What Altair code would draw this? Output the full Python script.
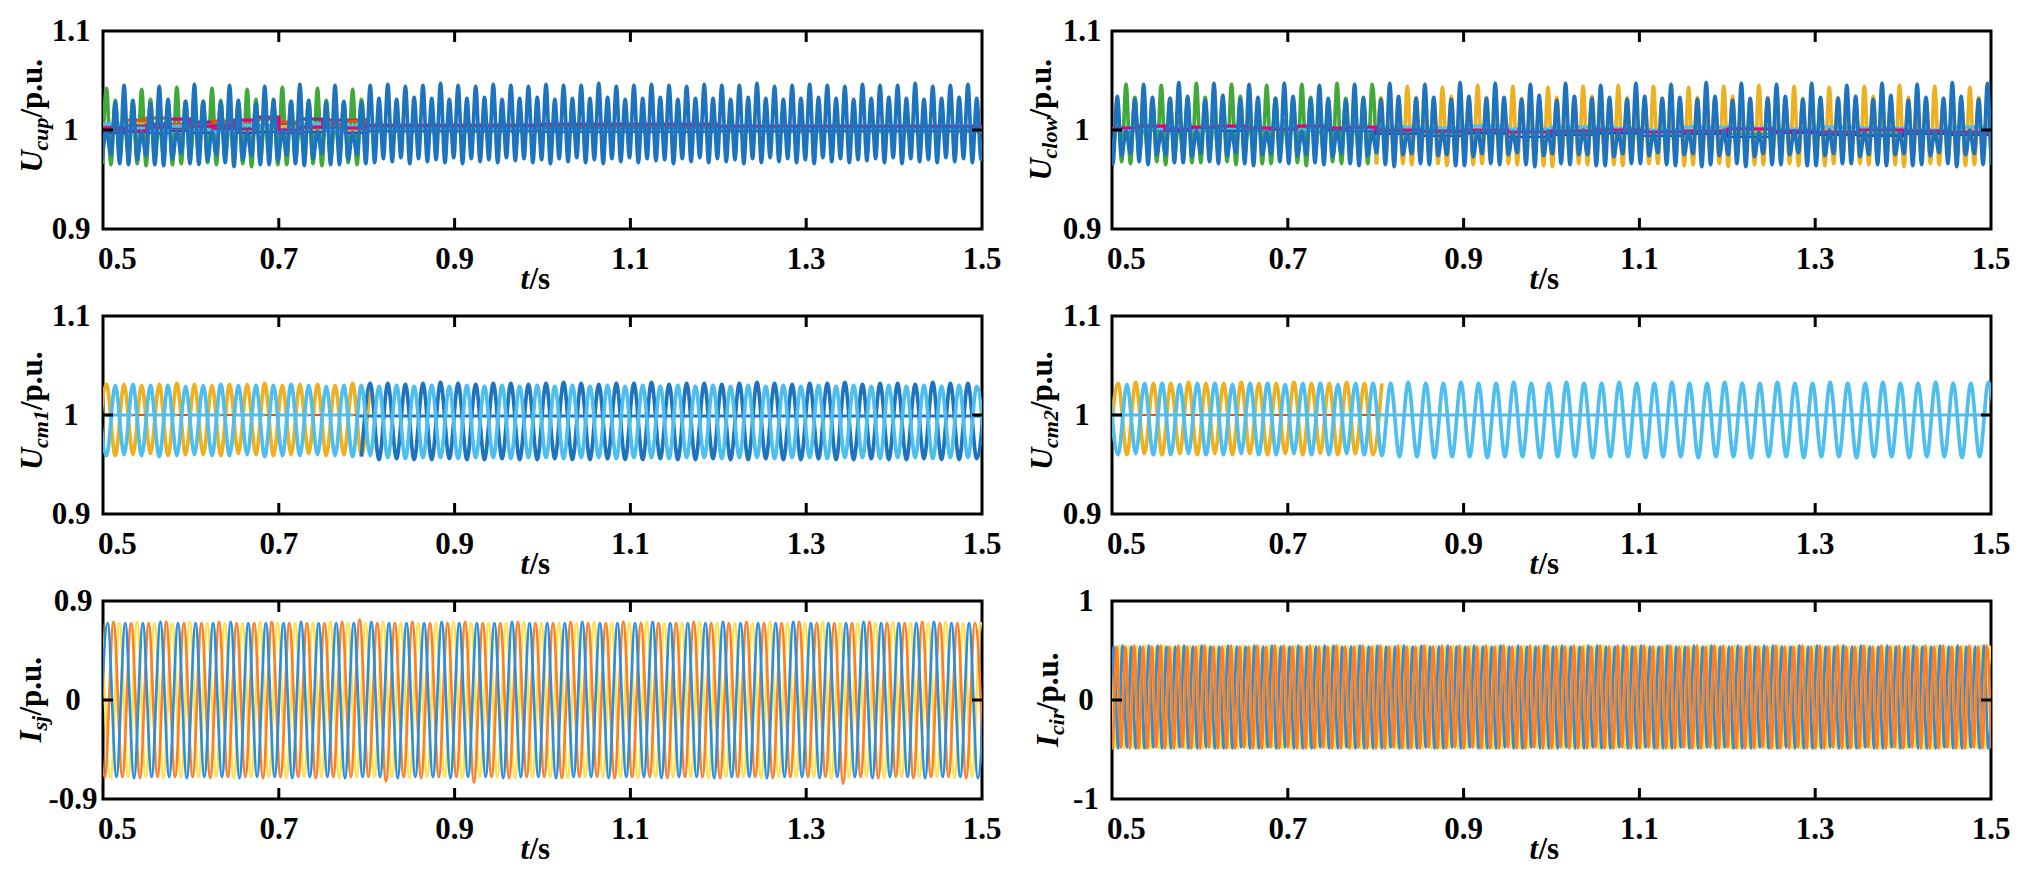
import altair as alt
import pandas as pd

FONT = "Liberation Serif"
W, H = 879, 198

# ---------------- axis values ----------------
X_LABELS = [0.5, 0.7, 0.9, 1.1, 1.3, 1.5]
X_INNER_TICKS = [0.7, 0.9, 1.1, 1.3]
U_TICKS = [0.9, 1.0, 1.1]
ISJ_TICKS = [-0.9, 0.0, 0.9]
ICIR_TICKS = [-1.0, 0.0, 1.0]

# ---------------- data (extreme values) ----------------
# U_cup  (0.001 p.u.), samples every 5 ms starting at t = 0.499 s
UCUP_T0, UCUP_DT = 0.499, 0.005
UCUP_BLUE_PRE = [970,
    999, 975, 1028, 966, 1045, 965, 1030, 970,
    998, 974, 1027, 965, 1044, 964, 1031, 971,
    1000, 976, 1029, 966, 1046, 965, 1029, 969,
    999, 975, 1028, 967, 1045, 963, 1030, 970,
    998, 974, 1027, 965, 1044, 965, 1031, 969,
    1000, 975, 1029, 966, 1046, 964, 1030, 971,
    999, 976, 1028, 965, 1045, 965, 1029, 970,
    998, 975, 1028, 966]
UCUP_BLUE_POST = [
    1045, 967, 1032, 971, 1046, 968, 1031, 972, 1044, 966, 1033, 971, 1045, 968, 1032, 970,
    1047, 967, 1031, 972, 1045, 966, 1032, 971, 1044, 968, 1033, 970, 1046, 967, 1031, 972,
    1045, 969, 1032, 971, 1044, 967, 1033, 970, 1046, 966, 1031, 971, 1045, 968, 1032, 972,
    1045, 967, 1032, 970, 1047, 966, 1033, 971, 1044, 968, 1031, 972, 1045, 967, 1032, 971,
    1046, 969, 1033, 970, 1045, 966, 1031, 971, 1044, 968, 1032, 972, 1046, 967, 1032, 971,
    1045, 968, 1031, 970, 1045, 966, 1033, 971, 1047, 967, 1032, 972, 1044, 968, 1031, 971,
    1045, 967, 1032, 970, 1046, 966, 1033, 972, 1045, 968, 1032, 971, 1044, 967, 1031, 970,
    1046, 969, 1032, 971, 1045, 967, 1033, 972, 1045, 966, 1032, 971, 1047, 968, 1031, 970,
    1044, 967, 1032, 972, 1045, 968, 1033, 971, 1046, 967, 1032, 970, 1045]
UCUP_GREEN = [966,
    1042, 965, 1030, 970, 1012, 975, 1028, 966,
    1041, 964, 1031, 969, 1010, 974, 1027, 965,
    1043, 966, 1029, 970, 1013, 976, 1029, 967,
    1042, 965, 1030, 971, 1011, 975, 1028, 966,
    1041, 963, 1031, 969, 1012, 974, 1027, 965,
    1043, 965, 1029, 970, 1010, 975, 1029, 966,
    1042, 964, 1030, 971, 1012, 976, 1028, 967,
    1041, 965, 1031, 970]
# bypassed sub-module voltages (p.u.), held between switching instants
UCUP_STEP_T = [0.500, 0.525, 0.550, 0.575, 0.600, 0.625, 0.650, 0.675,
               0.700, 0.725, 0.750, 0.775, 0.800, 1.000, 1.200, 1.500]
UCUP_STEP_ORANGE = [1.004, 1.010, 1.012, 1.006, 1.004, 1.009, 1.006, 1.011,
                    1.008, 1.004, 1.006, 1.009, 1.003, 1.004, 1.003, 1.003]
UCUP_STEP_MAGENTA = [1.002, 0.999, 1.003, 1.011, 1.004, 1.002, 1.010, 1.013,
                     1.000, 1.003, 1.010, 1.002, 1.005, 1.006, 1.004, 1.004]
UCUP_STEP_PURPLE = [1.000, 1.004, 1.006, 1.002, 1.008, 1.005, 1.001, 1.004,
                    1.007, 1.011, 1.002, 1.010, 1.002, 1.001, 1.002, 1.002]
UCUP_STEP_CYAN = [1.006, 1.002, 0.999, 1.004, 1.000, 0.998, 1.005, 1.003,
                  0.999, 1.006, 1.000, 1.004, 1.001, 1.000, 1.001, 1.001]
UCUP_STEP_YELLOW = [0.998, 1.006, 1.001, 0.999, 1.005, 1.007, 0.999, 1.001,
                    1.004, 0.999, 1.005, 0.999, 0.998, 0.999, 0.998, 0.998]
UCUP_STEP_BLUE = [0.997, 0.998, 0.997, 0.999, 0.997, 1.001, 0.997, 0.998,
                  0.997, 0.998, 0.999, 0.997, 0.999, 0.998, 0.999, 0.999]

# U_clow (0.001 p.u.), samples every 5 ms starting at t = 0.496 s
UCLOW_T0, UCLOW_DT = 0.496, 0.005
UCLOW_BLUE = [
    1047, 966, 1034, 974, 999, 976, 1031, 968, 1046, 965, 1033, 975, 998, 975, 1032, 967,
    1048, 967, 1034, 973, 1000, 976, 1030, 968, 1047, 966, 1035, 974, 999, 977, 1031, 966,
    1046, 964, 1033, 975, 998, 976, 1032, 968, 1047, 966, 1034, 974, 999, 975, 1031, 967,
    1045, 965, 1032, 973, 1000, 976, 1030, 966, 1046, 964, 1033, 974, 999, 977, 1031, 965,
    1047, 963, 1034, 975, 998, 976, 1032, 966, 1046, 965, 1033, 974, 999, 975, 1031, 964,
    1048, 964, 1034, 973, 1000, 976, 1032, 966, 1047, 965, 1033, 975, 998, 977, 1031, 965,
    1046, 963, 1035, 974, 999, 976, 1030, 966, 1047, 965, 1034, 975, 1000, 975, 1032, 964,
    1045, 964, 1033, 973, 999, 976, 1031, 966, 1047, 966, 1034, 974, 998, 977, 1032, 965,
    1046, 964, 1033, 975, 999, 976, 1031, 963, 1048, 965, 1034, 974, 1000, 975, 1030, 966,
    1047, 963, 1032, 973, 998, 976, 1032, 965, 1046, 965, 1034, 975, 999, 977, 1031, 964,
    1047, 964, 1033, 974, 1000, 976, 1032, 966, 1045, 966, 1034, 973, 999, 975, 1031, 965,
    1047, 964, 1035, 975, 998, 976, 1030, 964, 1046, 965, 1033, 974, 999, 977, 1032, 966,
    1048, 963, 1034, 975, 1000, 976, 1031, 965, 1047, 965, 1034]
UCLOW_GREEN = [1012, 976, 1030, 968,
    1046, 966, 1033, 975, 1012, 976, 1030, 968,
    1045, 965, 1032, 974, 1011, 975, 1031, 967,
    1047, 967, 1033, 976, 1013, 976, 1030, 968,
    1046, 965, 1034, 975, 1012, 977, 1029, 966,
    1045, 966, 1032, 974, 1010, 976, 1031, 967,
    1046, 964, 1033, 975, 1012, 975, 1030, 968,
    1047, 966, 1032, 976, 1013, 976, 1031, 966,
    1046, 966]
UCLOW_YELLOW_T0 = 0.801
UCLOW_YELLOW = [965, 1033, 972, 1012, 975, 1030, 966,
    1044, 965, 1033, 972, 1012, 975, 1030, 966, 1043, 964, 1034, 973, 1011, 976, 1031, 965,
    1045, 966, 1033, 972, 1013, 975, 1029, 966, 1044, 965, 1032, 971, 1012, 974, 1030, 964,
    1043, 963, 1033, 972, 1010, 975, 1031, 966, 1044, 965, 1034, 973, 1012, 976, 1030, 965,
    1045, 964, 1033, 972, 1013, 975, 1029, 966, 1044, 966, 1032, 971, 1012, 974, 1030, 964,
    1043, 965, 1033, 972, 1011, 975, 1031, 966, 1044, 963, 1034, 973, 1012, 976, 1030, 965,
    1045, 965, 1033, 972, 1010, 975, 1029, 966, 1044, 964, 1032, 971, 1013, 974, 1031, 964,
    1043, 966, 1033, 972, 1012, 975, 1030, 966, 1044, 965, 1034, 973, 1011, 976, 1029, 965,
    1045, 963, 1033, 972, 1012, 975, 1031, 966, 1044, 965, 1032, 971, 1013, 974, 1030, 964,
    1043, 965, 1033, 972, 1012, 975, 1030]
UCLOW_STEP_T = [0.50, 0.53, 0.56, 0.59, 0.62, 0.65, 0.68, 0.71, 0.74, 0.77, 0.80, 0.85, 0.90,
                0.95, 1.00, 1.05, 1.10, 1.15, 1.20, 1.25, 1.30, 1.35, 1.40, 1.45, 1.50]
UCLOW_STEP_MAGENTA = [1.002, 1.004, 1.001, 1.003, 1.004, 1.002, 1.001, 1.004, 1.002, 1.003, 1.000, 0.999, 1.000,
                      0.998, 0.999, 1.000, 0.998, 0.999, 1.001, 0.999, 0.998, 1.000, 0.999, 0.998, 0.998]
UCLOW_STEP_CYAN = [1.000, 1.001, 1.003, 1.000, 1.002, 1.001, 1.003, 1.000, 1.002, 1.001, 1.003, 1.002, 1.004,
                   1.001, 1.003, 1.002, 1.000, 1.003, 1.002, 1.001, 1.003, 1.002, 1.000, 1.003, 1.003]
UCLOW_STEP_BLUE = [0.999, 1.000, 0.999, 1.001, 0.999, 1.000, 1.001, 0.999, 1.000, 0.999, 0.996, 0.994, 0.997,
                   0.993, 0.995, 0.997, 0.994, 0.996, 0.993, 0.997, 0.995, 0.994, 0.996, 0.995, 0.995]
UCLOW_STEP_LIME = [1.001, 0.999, 1.000, 0.999, 1.001, 0.999, 1.000, 1.001, 0.999, 1.000, 0.998, 0.997, 0.996,
                   0.998, 0.997, 0.996, 0.998, 0.997, 0.996, 0.998, 0.997, 0.996, 0.998, 0.997, 0.997]

# U_cm1 (0.001 p.u.), samples every 10 ms starting at t = 0.494 s
UCM1_T0, UCM1_DT = 0.494, 0.010
UCM1_ORANGE = [960, 1031, 959, 1031, 960, 1030, 961, 1031, 959, 1032, 960, 1031, 960, 1030, 959, 1031,
               961, 1031, 960, 1032, 959, 1030, 960, 1031, 961, 1031, 959, 1030, 960, 1032, 960, 1031]
UCM1_CYAN = [
    1030, 959, 1030, 960, 1031, 959, 1030, 958, 1030, 959, 1029, 960, 1030, 959, 1031, 959, 1030, 960, 1030, 958,
    1030, 959, 1031, 959, 1030, 960, 1029, 959, 1030, 958, 1030, 959, 1029, 957, 1030, 956, 1029, 957, 1030, 957,
    1029, 956, 1030, 957, 1029, 957, 1030, 956, 1029, 957, 1030, 957, 1029, 956, 1030, 957, 1029, 957, 1030, 956,
    1029, 957, 1030, 957, 1029, 956, 1030, 957, 1029, 957, 1030, 956, 1029, 957, 1030, 957, 1029, 956, 1030, 957,
    1029, 957, 1030, 956, 1029, 957, 1030, 957, 1029, 956, 1030, 957, 1029, 957, 1030, 956, 1029, 957, 1030, 957,
    1029, 956]
UCM1_BLUE_T0 = 0.794
UCM1_BLUE = [
    958, 1032, 955, 1032, 956, 1031, 955, 1032, 955, 1033, 956, 1032, 955, 1031, 955, 1032, 956, 1032, 955, 1031,
    955, 1032, 956, 1033, 955, 1032, 955, 1031, 956, 1032, 955, 1032, 955, 1033, 956, 1031, 955, 1032, 955, 1032,
    956, 1031, 955, 1032, 955, 1033, 956, 1032, 955, 1031, 955, 1032, 956, 1032, 955, 1033, 955, 1031, 956, 1032,
    955, 1032, 955, 1031, 956, 1033, 955, 1032, 955, 1032, 956, 1031]
UCM1_FLAT_PRE_T, UCM1_FLAT_PRE = [0.50, 0.79], [1.000, 1.000]
UCM1_FLAT_POST_T, UCM1_FLAT_POST = [0.79, 1.50], [0.999, 0.999]

# U_cm2 (0.001 p.u.), samples every 10 ms starting at t = 0.497 s
UCM2_T0, UCM2_DT = 0.497, 0.010
UCM2_ORANGE = [961, 1032, 960, 1033, 961, 1032, 960, 1032, 961, 1033, 960, 1032, 961, 1032, 960, 1033,
               961, 1032, 960, 1032, 961, 1033, 960, 1032, 961, 1032, 960, 1033, 961, 1032, 960, 1032]
UCM2_CYAN = [
    1032, 960, 1031, 961, 1032, 960, 1032, 960, 1031, 961, 1032, 960, 1032, 960, 1031, 961, 1032, 960, 1032, 960,
    1031, 961, 1032, 960, 1032, 960, 1031, 961, 1032, 960, 1032, 959, 1032, 958, 1033, 958, 1032, 957, 1032, 958,
    1033, 958, 1032, 957, 1032, 958, 1033, 958, 1032, 957, 1032, 958, 1033, 958, 1032, 957, 1032, 958, 1033, 958,
    1032, 957, 1032, 958, 1033, 958, 1032, 957, 1032, 958, 1033, 958, 1032, 957, 1032, 958, 1033, 958, 1032, 957,
    1032, 958, 1033, 958, 1032, 957, 1032, 958, 1033, 958, 1032, 957, 1032, 958, 1033, 958, 1032, 957, 1032, 958,
    1033, 958]
UCM2_FLAT_PRE_T, UCM2_FLAT_PRE = [0.50, 0.80], [1.000, 1.000]
UCM2_FLAT_POST_T, UCM2_FLAT_POST = [0.80, 1.50], [1.000, 1.000]

# I_sj (0.01 p.u.), samples every 10 ms
ISJ_DT = 0.010
ISJ_BLUE_T0 = 0.4953
ISJ_BLUE = [
    -71, 70, -70, 70, -71, 70, -70, 71, -70, 70, -71, 70, -70, 70, -70, 71, -71, 70, -70, 70,
    -70, 70, -71, 71, -70, 70, -70, 70, -71, 70, -70, 71, -70, 70, -71, 70, -70, 70, -70, 71,
    -71, 70, -70, 70, -70, 70, -71, 71, -70, 70, -70, 70, -71, 70, -70, 71, -70, 70, -71, 70,
    -70, 70, -70, 71, -71, 70, -70, 70, -70, 70, -71, 71, -70, 70, -70, 70, -71, 70, -70, 71,
    -70, 70, -71, 70, -70, 70, -70, 71, -71, 70, -70, 70, -70, 70, -71, 71, -70, 70, -70, 70,
    -71, 70]
ISJ_ORANGE_T0 = 0.4920
ISJ_ORANGE = [
    70, -70, 71, -70, 70, -71, 70, -70, 71, -70, 70, -70, 70, -71, 71, -70, 70, -70, 70, -71,
    71, -70, 70, -70, 70, -71, 70, -70, 71, -70, 73, -70, 70, -74, 70, -70, 71, -71, 70, -70,
    70, -70, 71, -75, 70, -70, 70, -71, 71, -70, 70, -70, 70, -71, 71, -70, 70, -70, 70, -71,
    71, -70, 70, -70, 70, -71, 70, -70, 71, -70, 70, -71, 70, -70, 71, -70, 70, -71, 70, -70,
    71, -70, 70, -70, 70, -76, 70, -70, 71, -71, 70, -70, 70, -71, 71, -70, 70, -70, 70, -71,
    70, -70]
ISJ_YELLOW_T0 = 0.4987
ISJ_YELLOW = [
    70, -71, 70, -70, 71, -70, 70, -71, 70, -70, 71, -70, 70, -70, 70, -71, 70, -70, 71, -70,
    70, -71, 70, -70, 70, -70, 71, -71, 70, -70, 70, -70, 71, -70, 70, -71, 70, -70, 70, -70,
    71, -71, 70, -70, 70, -70, 70, -71, 71, -70, 70, -70, 70, -71, 70, -70, 71, -70, 70, -70,
    70, -71, 71, -70, 70, -70, 70, -70, 71, -71, 70, -70, 70, -70, 70, -71, 71, -70, 70, -70,
    70, -70, 71, -71, 70, -70, 70, -70, 70, -71, 71, -70, 70, -70, 70, -70, 71, -71, 70, -70,
    70, -71]

# I_cir (0.01 p.u.), samples every 5 ms
ICIR_DT = 0.005
ICIR_BLUE_T0 = 0.497
ICIR_BLUE = [
    -49, 54, -49, 55, -48, 54, -49, 54, -49, 55, -48, 55, -49, 54, -49, 54, -48, 55, -49, 54,
    -49, 55, -48, 54, -49, 54, -49, 55, -49, 54, -48, 54, -49, 55, -49, 54, -48, 55, -49, 54,
    -48, 54, -49, 55, -49, 54, -49, 54, -48, 55, -49, 55, -49, 54, -48, 54, -49, 55, -49, 54,
    -49, 55, -49, 54, -48, 54, -49, 55, -49, 54, -49, 55, -48, 54, -49, 54, -49, 55, -48, 54,
    -49, 54, -48, 55, -49, 54, -49, 54, -49, 55, -48, 54, -49, 55, -49, 54, -48, 54, -49, 55,
    -49, 54, -49, 55, -48, 54, -49, 54, -49, 55, -48, 55, -49, 54, -49, 54, -48, 55, -49, 54,
    -49, 55, -48, 54, -49, 54, -49, 55, -49, 54, -48, 54, -49, 55, -49, 54, -48, 55, -49, 54,
    -48, 54, -49, 55, -49, 54, -49, 54, -48, 55, -49, 55, -49, 54, -48, 54, -49, 55, -49, 54,
    -49, 55, -49, 54, -48, 54, -49, 55, -49, 54, -49, 55, -48, 54, -49, 54, -49, 55, -48, 54,
    -49, 54, -48, 55, -49, 54, -49, 54, -49, 55, -48, 54, -49, 55, -49, 54, -48, 54, -49, 55,
    -49, 54]
ICIR_ORANGE_T0 = 0.4953
ICIR_ORANGE = [
    55, -49, 54, -48, 54, -49, 55, -49, 54, -49, 54, -48, 55, -49, 54, -49, 55, -48, 54, -49,
    54, -49, 55, -48, 54, -49, 54, -49, 55, -49, 54, -48, 54, -49, 55, -49, 54, -48, 55, -49,
    55, -48, 54, -49, 54, -49, 55, -49, 54, -48, 54, -49, 55, -49, 54, -49, 54, -48, 55, -49,
    54, -49, 55, -49, 54, -48, 55, -49, 54, -49, 54, -49, 55, -48, 54, -49, 55, -49, 54, -48,
    55, -49, 54, -48, 54, -49, 55, -49, 54, -49, 55, -48, 54, -49, 54, -49, 55, -48, 54, -49,
    55, -49, 54, -48, 54, -49, 55, -49, 54, -49, 54, -48, 55, -49, 54, -49, 55, -48, 54, -49,
    54, -49, 55, -48, 54, -49, 54, -49, 55, -49, 54, -48, 54, -49, 55, -49, 54, -48, 55, -49,
    55, -48, 54, -49, 54, -49, 55, -49, 54, -48, 54, -49, 55, -49, 54, -49, 54, -48, 55, -49,
    54, -49, 55, -49, 54, -48, 55, -49, 54, -49, 54, -49, 55, -48, 54, -49, 55, -49, 54, -48,
    55, -49, 54, -48, 54, -49, 55, -49, 54, -49, 55, -48, 54, -49, 54, -49, 55, -48, 54, -49,
    55, -49]
ICIR_YELLOW_T0 = 0.4987
ICIR_YELLOW = [
    54, -49, 55, -49, 54, -48, 54, -49, 55, -49, 54, -49, 55, -48, 54, -49, 54, -49, 55, -48,
    55, -49, 54, -48, 54, -49, 55, -49, 54, -49, 55, -48, 54, -49, 54, -49, 55, -48, 54, -49,
    54, -49, 55, -49, 54, -48, 55, -49, 54, -49, 54, -49, 55, -48, 54, -49, 55, -49, 54, -48,
    55, -48, 54, -49, 54, -49, 55, -49, 54, -48, 54, -49, 55, -49, 54, -49, 54, -48, 55, -49,
    54, -49, 55, -48, 54, -49, 54, -49, 55, -49, 54, -48, 54, -49, 55, -49, 54, -48, 55, -49,
    54, -49, 55, -49, 54, -48, 54, -49, 55, -49, 54, -49, 55, -48, 54, -49, 54, -49, 55, -48,
    55, -49, 54, -48, 54, -49, 55, -49, 54, -49, 55, -48, 54, -49, 54, -49, 55, -48, 54, -49,
    54, -49, 55, -49, 54, -48, 55, -49, 54, -49, 54, -49, 55, -48, 54, -49, 55, -49, 54, -48,
    55, -48, 54, -49, 54, -49, 55, -49, 54, -48, 54, -49, 55, -49, 54, -49, 54, -48, 55, -49,
    54, -49, 55, -48, 54, -49, 54, -49, 55, -49, 54, -48, 54, -49, 55, -49, 54, -48, 55, -49,
    54, -49]

# ---------------- colours ----------------
C_BLUE = "#1E73BE"
C_GREEN = "#41A83A"
C_GOLD = "#EDB120"
C_CYAN = "#4DBEEE"
C_ORANGE = "#D95319"
C_MAGENTA = "#E4007C"
C_PURPLE = "#7E2F8E"
C_PUREBLUE = "#1F3FD0"
C_LIME = "#22C82A"
C_I_BLUE = "#2B8FDC"
C_I_ORANGE = "#FF7F27"
C_I_YELLOW = "#FFE14F"


def wave(t0, dt, vals, unit):
    return pd.DataFrame({"t": [t0 + dt * i for i in range(len(vals))],
                         "v": [v * unit for v in vals]})


def steps(ts, vs):
    return pd.DataFrame({"t": ts, "v": vs})


def make_panel(series, ydom, yticks, ymid, ttl):
    main, sub, tx, lpad, vshift, wmain, wsub = ttl
    xs = alt.Scale(domain=[0.5, 1.5], nice=False, zero=False)
    ys = alt.Scale(domain=ydom, nice=False, zero=False)
    X = alt.X("t:Q", scale=xs, axis=None)
    Y = alt.Y("v:Q", scale=ys, axis=None)
    layers = []
    for df, color, sw, interp, dash in series:
        kw = dict(color=color, strokeWidth=sw, interpolate=interp, clip=True)
        if dash:
            kw["strokeDash"] = dash
        layers.append(alt.Chart(df).mark_line(**kw).encode(x=X, y=Y))

    # inward ticks of the box
    tick_x = alt.Chart(pd.DataFrame({"t": X_INNER_TICKS}))
    tick_y = alt.Chart(pd.DataFrame({"v": [ymid]}))
    rule = dict(color="black", strokeWidth=3)
    layers.append(tick_x.mark_rule(**rule).encode(x=X, y=alt.value(H), y2=alt.value(H - 11)))
    layers.append(tick_x.mark_rule(**rule).encode(x=X, y=alt.value(0), y2=alt.value(11)))
    layers.append(tick_y.mark_rule(**rule).encode(y=Y, x=alt.value(0), x2=alt.value(10)))
    layers.append(tick_y.mark_rule(**rule).encode(y=Y, x=alt.value(W - 10), x2=alt.value(W)))

    # tick labels
    lab = dict(font=FONT, fontSize=31, fontWeight="bold", color="black")
    xl = pd.DataFrame({"t": X_LABELS, "lab": [f"{v:.1f}" for v in X_LABELS]})
    layers.append(alt.Chart(xl.iloc[:1]).mark_text(align="left", baseline="alphabetic", dx=-5, **lab)
                  .encode(x=X, y=alt.value(H + 40), text="lab:N"))
    layers.append(alt.Chart(xl.iloc[1:]).mark_text(align="center", baseline="alphabetic", **lab)
                  .encode(x=X, y=alt.value(H + 40), text="lab:N"))
    yl = pd.DataFrame({"v": yticks, "lab": [f"{v:g}" for v in yticks]})
    layers.append(alt.Chart(yl).mark_text(align="center", baseline="middle", dy=1, **lab)
                  .encode(y=Y, x=alt.value(-lpad), text="lab:N"))

    def txt(s, x, y, size, italic, angle):
        return alt.Chart(alt.Data(values=[{"s": s}])).mark_text(
            font=FONT, fontSize=size, fontWeight="bold",
            fontStyle="italic" if italic else "normal", angle=angle,
            align="left", baseline="alphabetic", color="black").encode(
            text="s:N", x=alt.value(x), y=alt.value(y))

    total = wmain + wsub + 58
    y0 = H / 2 + total / 2 + vshift
    layers.append(txt(main, tx, y0, 31, True, 270))
    layers.append(txt(sub, tx + 6, y0 - wmain, 22, True, 270))
    layers.append(txt("/p.u.", tx, y0 - wmain - wsub, 31, False, 270))
    layers.append(txt("t", W / 2 - 22, H + 60, 31, True, 0))
    layers.append(txt("/s", W / 2 - 13, H + 60, 31, False, 0))
    return alt.layer(*layers).properties(width=W, height=H)


M, S = "monotone", "step-after"
UW, SW, IW = 3.7, 3.2, 2.7

p1 = make_panel([
    (wave(UCUP_T0, UCUP_DT, UCUP_GREEN, 0.001), C_GREEN, UW, M, None),
    (steps(UCUP_STEP_T, UCUP_STEP_YELLOW), C_GOLD, SW, S, None),
    (steps(UCUP_STEP_T, UCUP_STEP_PURPLE), C_PURPLE, SW, S, None),
    (steps(UCUP_STEP_T, UCUP_STEP_ORANGE), C_ORANGE, SW, S, None),
    (steps(UCUP_STEP_T, UCUP_STEP_BLUE), C_PUREBLUE, 2.2, S, None),
    (steps(UCUP_STEP_T, UCUP_STEP_CYAN), C_CYAN, SW, S, None),
    (steps(UCUP_STEP_T, UCUP_STEP_MAGENTA), C_MAGENTA, SW, S, None),
    (wave(UCUP_T0, UCUP_DT, UCUP_BLUE_PRE + UCUP_BLUE_POST, 0.001), C_BLUE, UW, M, None),
], [0.9, 1.1], U_TICKS, 1.0, ("U", "cup", -61, 32, -14, 22, 33))

p2 = make_panel([
    (wave(UCLOW_T0, UCLOW_DT, UCLOW_GREEN, 0.001), C_GREEN, UW, M, None),
    (wave(UCLOW_YELLOW_T0, UCLOW_DT, UCLOW_YELLOW, 0.001), C_GOLD, UW, M, None),
    (steps(UCLOW_STEP_T, UCLOW_STEP_LIME), C_LIME, 2.2, S, None),
    (steps(UCLOW_STEP_T, UCLOW_STEP_BLUE), C_PUREBLUE, 2.2, S, None),
    (steps(UCLOW_STEP_T, UCLOW_STEP_CYAN), C_CYAN, SW, S, None),
    (steps(UCLOW_STEP_T, UCLOW_STEP_MAGENTA), C_MAGENTA, SW, S, None),
    (wave(UCLOW_T0, UCLOW_DT, UCLOW_BLUE, 0.001), C_BLUE, UW, M, None),
], [0.9, 1.1], U_TICKS, 1.0, ("U", "clow", -61, 30, -10, 22, 41))

p3 = make_panel([
    (wave(UCM1_T0, UCM1_DT, UCM1_ORANGE, 0.001), C_GOLD, UW, M, None),
    (steps(UCM1_FLAT_PRE_T, UCM1_FLAT_PRE), C_ORANGE, 2.2, S, None),
    (steps(UCM1_FLAT_POST_T, UCM1_FLAT_POST), C_BLUE, SW, S, None),
    (wave(UCM1_BLUE_T0, UCM1_DT, UCM1_BLUE, 0.001), C_BLUE, UW, M, None),
    (steps(UCM1_FLAT_PRE_T, UCM1_FLAT_PRE), C_CYAN, SW, S, [30, 14]),
    (wave(UCM1_T0, UCM1_DT, UCM1_CYAN, 0.001), C_CYAN, UW, M, None),
], [0.9, 1.1], U_TICKS, 1.0, ("U", "cm1", -61, 32, -4, 22, 38))

p4 = make_panel([
    (wave(UCM2_T0, UCM2_DT, UCM2_ORANGE, 0.001), C_GOLD, UW, M, None),
    (steps(UCM2_FLAT_PRE_T, UCM2_FLAT_PRE), C_ORANGE, 2.2, S, None),
    (steps(UCM2_FLAT_PRE_T, UCM2_FLAT_PRE), C_CYAN, SW, S, [30, 14]),
    (steps(UCM2_FLAT_POST_T, UCM2_FLAT_POST), C_CYAN, SW, S, None),
    (wave(UCM2_T0, UCM2_DT, UCM2_CYAN, 0.001), C_CYAN, UW, M, None),
], [0.9, 1.1], U_TICKS, 1.0, ("U", "cm2", -60, 30, -4, 22, 38))

p5 = make_panel([
    (wave(ISJ_YELLOW_T0, ISJ_DT, ISJ_YELLOW, 0.01), C_I_YELLOW, IW, M, None),
    (wave(ISJ_ORANGE_T0, ISJ_DT, ISJ_ORANGE, 0.01), C_I_ORANGE, IW, M, None),
    (wave(ISJ_BLUE_T0, ISJ_DT, ISJ_BLUE, 0.01), C_I_BLUE, IW, M, None),
], [-0.9, 0.9], ISJ_TICKS, 0.0, ("I", "sj", -62, 30, 0, 12, 15))

p6 = make_panel([
    (wave(ICIR_YELLOW_T0, ICIR_DT, ICIR_YELLOW, 0.01), C_I_YELLOW, IW, M, None),
    (wave(ICIR_BLUE_T0, ICIR_DT, ICIR_BLUE, 0.01), C_I_BLUE, IW, M, None),
    (wave(ICIR_ORANGE_T0, ICIR_DT, ICIR_ORANGE, 0.01), C_I_ORANGE, IW, M, None),
], [-1, 1], ICIR_TICKS, 0.0, ("I", "cir", -54, 26, 0, 12, 24))

chart = alt.concat(p1, p2, p3, p4, p5, p6, columns=2,
                   spacing={"row": 87, "column": 130}, bounds="flush").properties(
    padding={"left": 6, "top": 6, "right": 4, "bottom": 2}
).configure(font=FONT).configure_view(stroke="black", strokeWidth=3)

chart.save("out.html", embed_options={"renderer": "svg", "actions": False})
